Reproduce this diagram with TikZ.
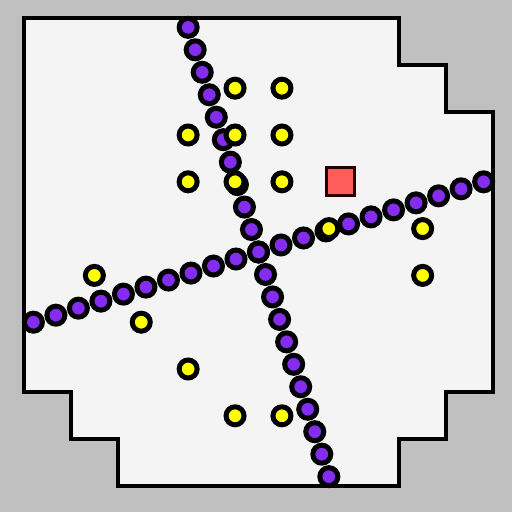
\documentclass[tikz,border=0pt]{standalone}
\definecolor{bggray}{RGB}{192,192,192}
\definecolor{panel}{RGB}{244,244,244}
\definecolor{purpledot}{RGB}{132,44,240}
\definecolor{yellowdot}{RGB}{255,255,0}
\definecolor{redbox}{RGB}{255,92,92}
\tikzset{
  pdot/.style={circle, draw=black, line width=5pt, fill=purpledot, minimum size=18pt, inner sep=0pt},
  ydot/.style={circle, draw=black, line width=5pt, fill=yellowdot, minimum size=18pt, inner sep=0pt},
  goalbox/.style={rectangle, draw=black!85!red, line width=3pt, fill=redbox, minimum size=28pt, inner sep=0pt},
  wall/.style={draw=black, line width=4pt, fill=panel, line join=miter}
}
\begin{document}
\begin{tikzpicture}[x=46.9pt, y=-46.8pt]
  \fill[bggray] (-0.5117,-0.3846) rectangle (10.4051,10.5556);
  \useasboundingbox (-0.5117,-0.3846) rectangle (10.4051,10.5556);
  \path[wall] (0,0) -- (8,0) -- (8,1) -- (9,1) -- (9,2) -- (10,2) -- (10,8) -- (9,8) -- (9,9) -- (8,9) -- (8,10) -- (2,10) -- (2,9) -- (1,9) -- (1,8) -- (0,8) -- cycle;
  % chain 1 (top to bottom)
  \foreach \i in {0,...,20} {
    \node[pdot] (a\i) at ({3.5+3*\i/20},{0.2+9.6*\i/20}) {};
  }
  % chain 2 (left to right)
  \foreach \i in {0,...,20} {
    \node[pdot] (b\i) at ({0.2+9.6*\i/20},{6.5-3*\i/20}) {};
  }
  % yellow dots
  \foreach \x/\y [count=\k] in {4.5/1.5,5.5/1.5,3.5/2.5,4.5/2.5,5.5/2.5,3.5/3.5,4.5/3.5,5.5/3.5,6.5/4.5,8.5/4.5,8.5/5.5,1.5/5.5,2.5/6.5,3.5/7.5,4.5/8.5,5.5/8.5} {
    \node[ydot] (y\k) at (\x,\y) {};
  }
  \node[goalbox] (goal) at (6.75,3.5) {};
\end{tikzpicture}
\end{document}
